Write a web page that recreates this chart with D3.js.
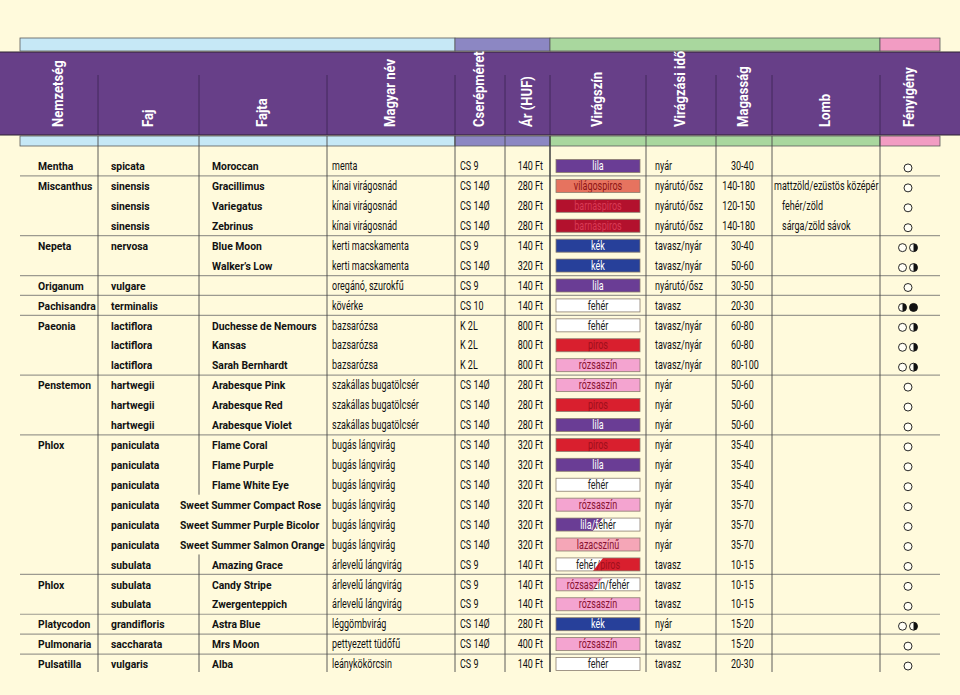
<!DOCTYPE html>
<html><head><meta charset="utf-8">
<script src="https://cdn.jsdelivr.net/npm/d3@7"></script>
<style>
body{margin:0;background:#fffadc;}
svg{display:block;}
text{font-family:Roboto,"Liberation Sans",sans-serif;}
</style></head><body>
<svg id="chart" width="960" height="695"></svg>
<script>
const headers = ["Nemzetség","Faj","Fajta","Magyar név","Cserépméret","Ár (HUF)","Virágszín","Virágzási idő","Magasság","Lomb","Fényigény"];
const genus = ["Mentha","Miscanthus","","","Nepeta","","Origanum","Pachisandra","Paeonia","","","Penstemon","","","Phlox","","","","","","","Phlox","","Platycodon","Pulmonaria","Pulsatilla"];
const species = ["spicata","sinensis","sinensis","sinensis","nervosa","","vulgare","terminalis","lactiflora","lactiflora","lactiflora","hartwegii","hartwegii","hartwegii","paniculata","paniculata","paniculata","paniculata","paniculata","paniculata","subulata","subulata","subulata","grandifloris","saccharata","vulgaris"];
const cultivar = ["Moroccan","Gracillimus","Variegatus","Zebrinus","Blue Moon","Walker’s Low","","","Duchesse de Nemours","Kansas","Sarah Bernhardt","Arabesque Pink","Arabesque Red","Arabesque Violet","Flame Coral","Flame Purple","Flame White Eye","Sweet Summer Compact Rose","Sweet Summer Purple Bicolor","Sweet Summer Salmon Orange","Amazing Grace","Candy Stripe","Zwergenteppich","Astra Blue","Mrs Moon","Alba"];
const hungarianName = ["menta","kínai virágosnád","kínai virágosnád","kínai virágosnád","kerti macskamenta","kerti macskamenta","oregánó, szurokfű","kövérke","bazsarózsa","bazsarózsa","bazsarózsa","szakállas bugatölcsér","szakállas bugatölcsér","szakállas bugatölcsér","bugás lángvirág","bugás lángvirág","bugás lángvirág","bugás lángvirág","bugás lángvirág","bugás lángvirág","árlevelű lángvirág","árlevelű lángvirág","árlevelű lángvirág","léggömbvirág","pettyezett tüdőfű","leánykökörcsin"];
const potSize = ["CS 9","CS 14Ø","CS 14Ø","CS 14Ø","CS 9","CS 14Ø","CS 9","CS 10","K 2L","K 2L","K 2L","CS 14Ø","CS 14Ø","CS 14Ø","CS 14Ø","CS 14Ø","CS 14Ø","CS 14Ø","CS 14Ø","CS 14Ø","CS 9","CS 9","CS 9","CS 14Ø","CS 14Ø","CS 9"];
const priceHUF = [140,280,280,280,140,320,140,140,800,800,800,280,280,280,320,320,320,320,320,320,140,140,140,280,400,140];
const flowerColor = ["lila","világospiros","barnáspiros","barnáspiros","kék","kék","lila","fehér","fehér","piros","rózsaszín","rózsaszín","piros","lila","piros","lila","fehér","rózsaszín","lila/fehér","lazacszínű","fehér/piros","rózsaszín/fehér","rózsaszín","kék","rózsaszín","fehér"];
const bloomTime = ["nyár","nyárutó/ősz","nyárutó/ősz","nyárutó/ősz","tavasz/nyár","tavasz/nyár","nyárutó/ősz","tavasz","tavasz/nyár","tavasz/nyár","tavasz/nyár","nyár","nyár","nyár","nyár","nyár","nyár","nyár","nyár","nyár","tavasz","tavasz","tavasz","nyár","tavasz","tavasz"];
const heightCm = ["30-40","140-180","120-150","140-180","30-40","50-60","30-50","20-30","60-80","60-80","80-100","50-60","50-60","50-60","35-40","35-40","35-40","35-70","35-70","35-70","10-15","10-15","10-15","15-20","15-20","20-30"];
const foliage = ["","mattzöld/ezüstös középér","fehér/zöld","sárga/zöld sávok","","","","","","","","","","","","","","","","","","","","","",""];
const lightNeed = ["○","○","○","○","○◑","○◑","○","◑●","○◑","○◑","○◑","○","○","○","○","○","○","○","○","○","○","○","○","○◑","○","○"];

// styles
const palette = {
  "lila": {fill:"#6a3d95", text:"#ffffff"},
  "világospiros": {fill:"#e6735f", text:"#8e1414"},
  "barnáspiros": {fill:"#b3112d", text:"#d93a55"},
  "kék": {fill:"#27409a", text:"#ffffff"},
  "fehér": {fill:"#ffffff", text:"#222222"},
  "piros": {fill:"#d91f2e", text:"#a0101c"},
  "rózsaszín": {fill:"#f4a4d0", text:"#8a1232"},
  "lazacszínű": {fill:"#f5a6b7", text:"#8a1232"}
};
const groupBands = [
  {x0:20, x1:455, fill:"#c6e8f6"},
  {x0:455, x1:550, fill:"#8c87c3"},
  {x0:550, x1:880, fill:"#a9d79e"},
  {x0:880, x1:940, fill:"#f29cc3"}
];
const edges = [20, 98, 199, 327, 455, 505, 550, 646, 716, 772, 880, 940];
const SX_BOLD = 0.9, SX_REG = 0.75, FS_BOLD = 11.5, FS_REG = 12;

const svg = d3.select("#chart");
const defs = svg.append("defs");
const n = genus.length;
const y = d3.scaleBand().domain(d3.range(n)).range([156, 674]);
const col = d3.scaleOrdinal().domain(d3.range(edges.length)).range(edges);
const yc = i => y(i) + y.bandwidth() / 2;
const base = i => yc(i) + 4.2;

function addText(g, x, yy, str, o = {}) {
  const sx = o.bold ? SX_BOLD : SX_REG;
  return g.append("text")
    .attr("transform", `translate(${x},${yy}) scale(${sx},1)`)
    .attr("text-anchor", o.anchor || "start")
    .attr("font-size", o.bold ? FS_BOLD : FS_REG)
    .attr("font-weight", o.bold ? "bold" : "normal")
    .attr("fill", o.fill || "#111111")
    .text(str);
}

// group bands (top and bottom)
[[38, 51], [136, 146]].forEach(([t, b]) => {
  svg.append("g").selectAll("rect").data(groupBands).join("rect")
    .attr("x", d => d.x0).attr("y", t).attr("width", d => d.x1 - d.x0).attr("height", b - t)
    .attr("fill", d => d.fill).attr("stroke", "#5a5a5a").attr("stroke-width", 0.8);
});

// purple header
svg.append("rect").attr("x", -1).attr("y", 52).attr("width", 962).attr("height", 83)
  .attr("fill", "#673f88").attr("stroke", "#2e2233").attr("stroke-width", 1);

// header dividers
const inner = d3.range(1, edges.length - 1);
svg.append("g").selectAll("line").data(inner).join("line")
  .attr("x1", i => col(i)).attr("x2", i => col(i)).attr("y1", 75).attr("y2", 135)
  .attr("stroke", "#3b2550").attr("stroke-width", 0.8);

// header labels
svg.append("g").selectAll("text").data(headers).join("text")
  .attr("transform", (d, i) => `translate(${(col(i) + col(i + 1)) / 2 - 1},127) rotate(-90) scale(0.9,1)`)
  .attr("dy", "0.35em")
  .attr("fill", "#ffffff").attr("font-weight", "bold").attr("font-size", 14.5)
  .text(d => d);

// row separators
const sepRows = d3.range(1, n).filter(i => genus[i] !== "");
svg.append("g").selectAll("line").data(sepRows).join("line")
  .attr("x1", 20).attr("x2", 940).attr("y1", i => y(i)).attr("y2", i => y(i))
  .attr("stroke", "#9c9a90").attr("stroke-width", 1.2);

const body = svg.append("g");

function textCol(arr, o) {
  const g = body.append("g");
  arr.forEach((d, i) => { if (d !== "") addText(g, o.x, base(i), d, o); });
}
textCol(genus, {x: col(0) + 18, bold: true});
textCol(species, {x: col(1) + 13, bold: true});
// cultivar, with overflow into species column
const overflowRows = [];
const cultG = body.append("g");
cultivar.forEach((c, i) => {
  if (!c) return;
  const t = addText(cultG, col(2) + 13, base(i), c, {bold: true});
  const w = t.node().getComputedTextLength() * SX_BOLD;
  if (w > col(3) - col(2) - 15) {
    t.attr("transform", `translate(${col(2) - 19},${base(i)}) scale(${SX_BOLD},1)`);
    overflowRows.push(i);
  }
});
textCol(hungarianName, {x: col(3) + 5});
textCol(potSize, {x: col(4) + 5});
textCol(priceHUF.map(p => p + " Ft"), {x: col(6) - 7, anchor: "end"});
textCol(bloomTime, {x: col(7) + 9});
// height: large values right-aligned
const hG = body.append("g");
heightCm.forEach((d, i) => {
  const big = +d.split("-")[0] >= 100;
  addText(hG, big ? col(8) + 39 : col(8) + 15, base(i), d, {anchor: big ? "end" : "start"});
});
// foliage
const folG = body.append("g");
foliage.forEach((f, i) => {
  if (!f) return;
  const t = addText(folG, col(9) + 10, base(i), f);
  const w = t.node().getComputedTextLength() * SX_REG;
  const maxRight = col(10) - 4;
  if (col(9) + 10 + w > maxRight) {
    const nx = Math.max(col(9) + 2, maxRight - w);
    t.attr("transform", `translate(${nx},${base(i)}) scale(${SX_REG},1)`);
  }
});

// swatches
const swG = body.append("g");
flowerColor.forEach((name, i) => {
  const parts = name.split("/");
  const x0 = col(6) + 6, x1 = col(7) - 6, h = 13;
  const top = yc(i) - h / 2, bot = yc(i) + h / 2, mid = (x0 + x1) / 2;
  const polys = parts.length === 1
    ? [[[x0, top], [x1, top], [x1, bot], [x0, bot]]]
    : [[[x0, top], [mid + 5, top], [mid - 5, bot], [x0, bot]],
       [[mid + 5, top], [x1, top], [x1, bot], [mid - 5, bot]]];
  parts.forEach((p, k) => {
    const id = `clip-${i}-${k}`;
    defs.append("clipPath").attr("id", id).append("polygon").attr("points", polys[k].join(" "));
    swG.append("polygon").attr("points", polys[k].join(" ")).attr("fill", palette[p].fill);
    const cg = swG.append("g").attr("clip-path", `url(#${id})`);
    addText(cg, mid, base(i), name, {anchor: "middle", fill: palette[p].text});
  });
  swG.append("rect").attr("x", x0).attr("y", top).attr("width", x1 - x0).attr("height", h)
    .attr("fill", "none").attr("stroke", "#8a7d6e").attr("stroke-width", 0.8);
});

// light symbols
const lgG = body.append("g");
lightNeed.forEach((s, i) => {
  const chars = Array.from(s);
  const cx0 = 908 - (chars.length - 1) * 5.5;
  chars.forEach((ch, k) => {
    const cx = cx0 + k * 11, cy = yc(i) + 2, r = 4;
    if (ch === "●") {
      lgG.append("circle").attr("cx", cx).attr("cy", cy).attr("r", r).attr("fill", "#111").attr("stroke", "#111").attr("stroke-width", 0.9);
    } else {
      lgG.append("circle").attr("cx", cx).attr("cy", cy).attr("r", r).attr("fill", "#fffef5").attr("stroke", "#111").attr("stroke-width", 0.9);
      if (ch === "◑") {
        lgG.append("path").attr("d", `M${cx},${cy - r}A${r},${r} 0 0 1 ${cx},${cy + r}Z`).attr("fill", "#111");
      }
    }
  });
});

// body vertical lines
const vlines = [];
inner.forEach(ci => {
  if (ci === 2 && overflowRows.length) {
    const a = d3.min(overflowRows), b = d3.max(overflowRows);
    vlines.push({x: col(ci), y1: 136, y2: y(a)});
    vlines.push({x: col(ci), y1: y(b) + y.bandwidth(), y2: 672});
  } else {
    vlines.push({x: col(ci), y1: 136, y2: 672});
  }
});
svg.append("g").selectAll("line").data(vlines).join("line")
  .attr("x1", d => d.x).attr("x2", d => d.x).attr("y1", d => d.y1).attr("y2", d => d.y2)
  .attr("stroke", "#4a4a4a").attr("stroke-width", d => d.x === col(6) ? 1.6 : 0.9);
</script>
</body></html>
